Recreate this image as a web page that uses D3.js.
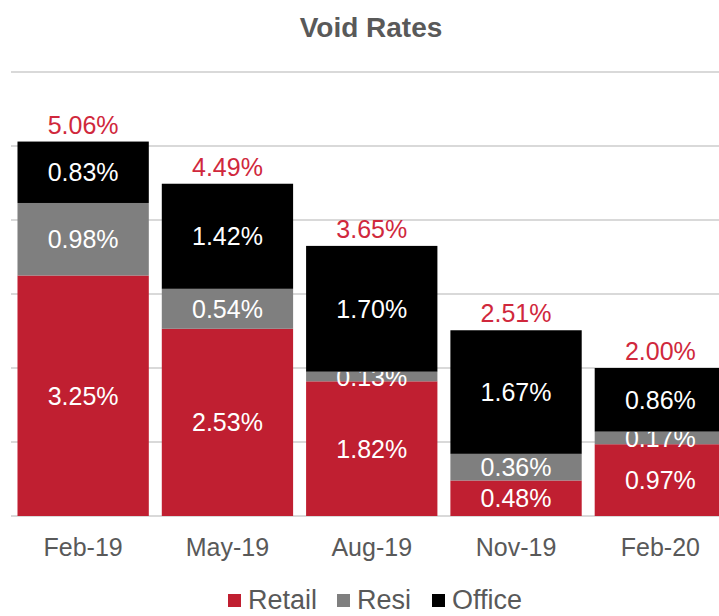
<!DOCTYPE html>
<html>
<head>
<meta charset="utf-8">
<script src="https://cdn.jsdelivr.net/npm/d3@7"></script>
<style>
  body { margin: 0; background: #fff; }
  svg { display: block; font-family: "Liberation Sans", Arial, sans-serif; }
</style>
</head>
<body>
<div id="chart"></div>
<script>
const categories = ["Feb-19", "May-19", "Aug-19", "Nov-19", "Feb-20"];
const retail = [3.25, 2.53, 1.82, 0.48, 0.97];
const resi = [0.98, 0.54, 0.13, 0.36, 0.17];
const office = [0.83, 1.42, 1.70, 1.67, 0.86];
const totals = [5.06, 4.49, 3.65, 2.51, 2.00];
const seriesNames = ["Retail", "Resi", "Office"];
const yTicks = [0, 1, 2, 3, 4, 5, 6];

const colors = { Retail: "#c01f31", Resi: "#7f7f7f", Office: "#000000" };
const textGray = "#595959";

const width = 719, height = 616;

const svg = d3.select("#chart").append("svg")
  .attr("width", width)
  .attr("height", height);

const x = d3.scaleBand()
  .domain(categories)
  .range([11, 732.5])
  .paddingInner(0.09)
  .paddingOuter(0.045);

const y = d3.scaleLinear()
  .domain([0, 6])
  .range([516, 72]);

// table for the stack
const rows = categories.map((c, i) => ({
  cat: c, Retail: retail[i], Resi: resi[i], Office: office[i]
}));
const stacked = d3.stack().keys(seriesNames)(rows);

// gridlines
svg.append("g")
  .selectAll("line")
  .data(yTicks)
  .join("line")
  .attr("x1", 11)
  .attr("x2", width)
  .attr("y1", d => y(d))
  .attr("y2", d => y(d))
  .attr("stroke", "#d9d9d9")
  .attr("stroke-width", 2);

// title
svg.append("text")
  .attr("x", 371)
  .attr("y", 37)
  .attr("text-anchor", "middle")
  .attr("font-size", 28)
  .attr("font-weight", "bold")
  .attr("fill", textGray)
  .text("Void Rates");

// bars
const layers = svg.append("g")
  .selectAll("g")
  .data(stacked)
  .join("g")
  .attr("fill", d => colors[d.key]);

layers.selectAll("rect")
  .data(d => d)
  .join("rect")
  .attr("x", d => x(d.data.cat))
  .attr("width", x.bandwidth())
  .attr("y", d => y(d[1]))
  .attr("height", d => y(d[0]) - y(d[1]));

// segment labels
layers.selectAll("text")
  .data(d => d.map(v => ({ v, key: d.key })))
  .join("text")
  .attr("x", d => x(d.v.data.cat) + x.bandwidth() / 2)
  .attr("y", d => (y(d.v[0]) + y(d.v[1])) / 2 + 9)
  .attr("text-anchor", "middle")
  .attr("font-size", 25)
  .attr("fill", "#fff")
  .text(d => d.v.data[d.key].toFixed(2) + "%");

// totals
svg.append("g")
  .selectAll("text")
  .data(totals)
  .join("text")
  .attr("x", (d, i) => x(categories[i]) + x.bandwidth() / 2)
  .attr("y", d => y(d) - 8)
  .attr("text-anchor", "middle")
  .attr("font-size", 25)
  .attr("fill", "#d0283c")
  .text(d => d.toFixed(2) + "%");

// x axis labels
svg.append("g")
  .selectAll("text")
  .data(categories)
  .join("text")
  .attr("x", d => x(d) + x.bandwidth() / 2)
  .attr("y", 556)
  .attr("text-anchor", "middle")
  .attr("font-size", 25)
  .attr("fill", textGray)
  .text(d => d);

// legend (nudged up a little so the text is not clipped)
const legendX = [228, 337, 432];
const legend = svg.append("g")
  .selectAll("g")
  .data(seriesNames)
  .join("g")
  .attr("transform", (d, i) => `translate(${legendX[i]},594)`);

legend.append("rect")
  .attr("width", 13)
  .attr("height", 13)
  .attr("fill", d => colors[d]);

legend.append("text")
  .attr("x", 20)
  .attr("y", 15)
  .attr("font-size", 27)
  .attr("fill", textGray)
  .text(d => d);
</script>
</body>
</html>
